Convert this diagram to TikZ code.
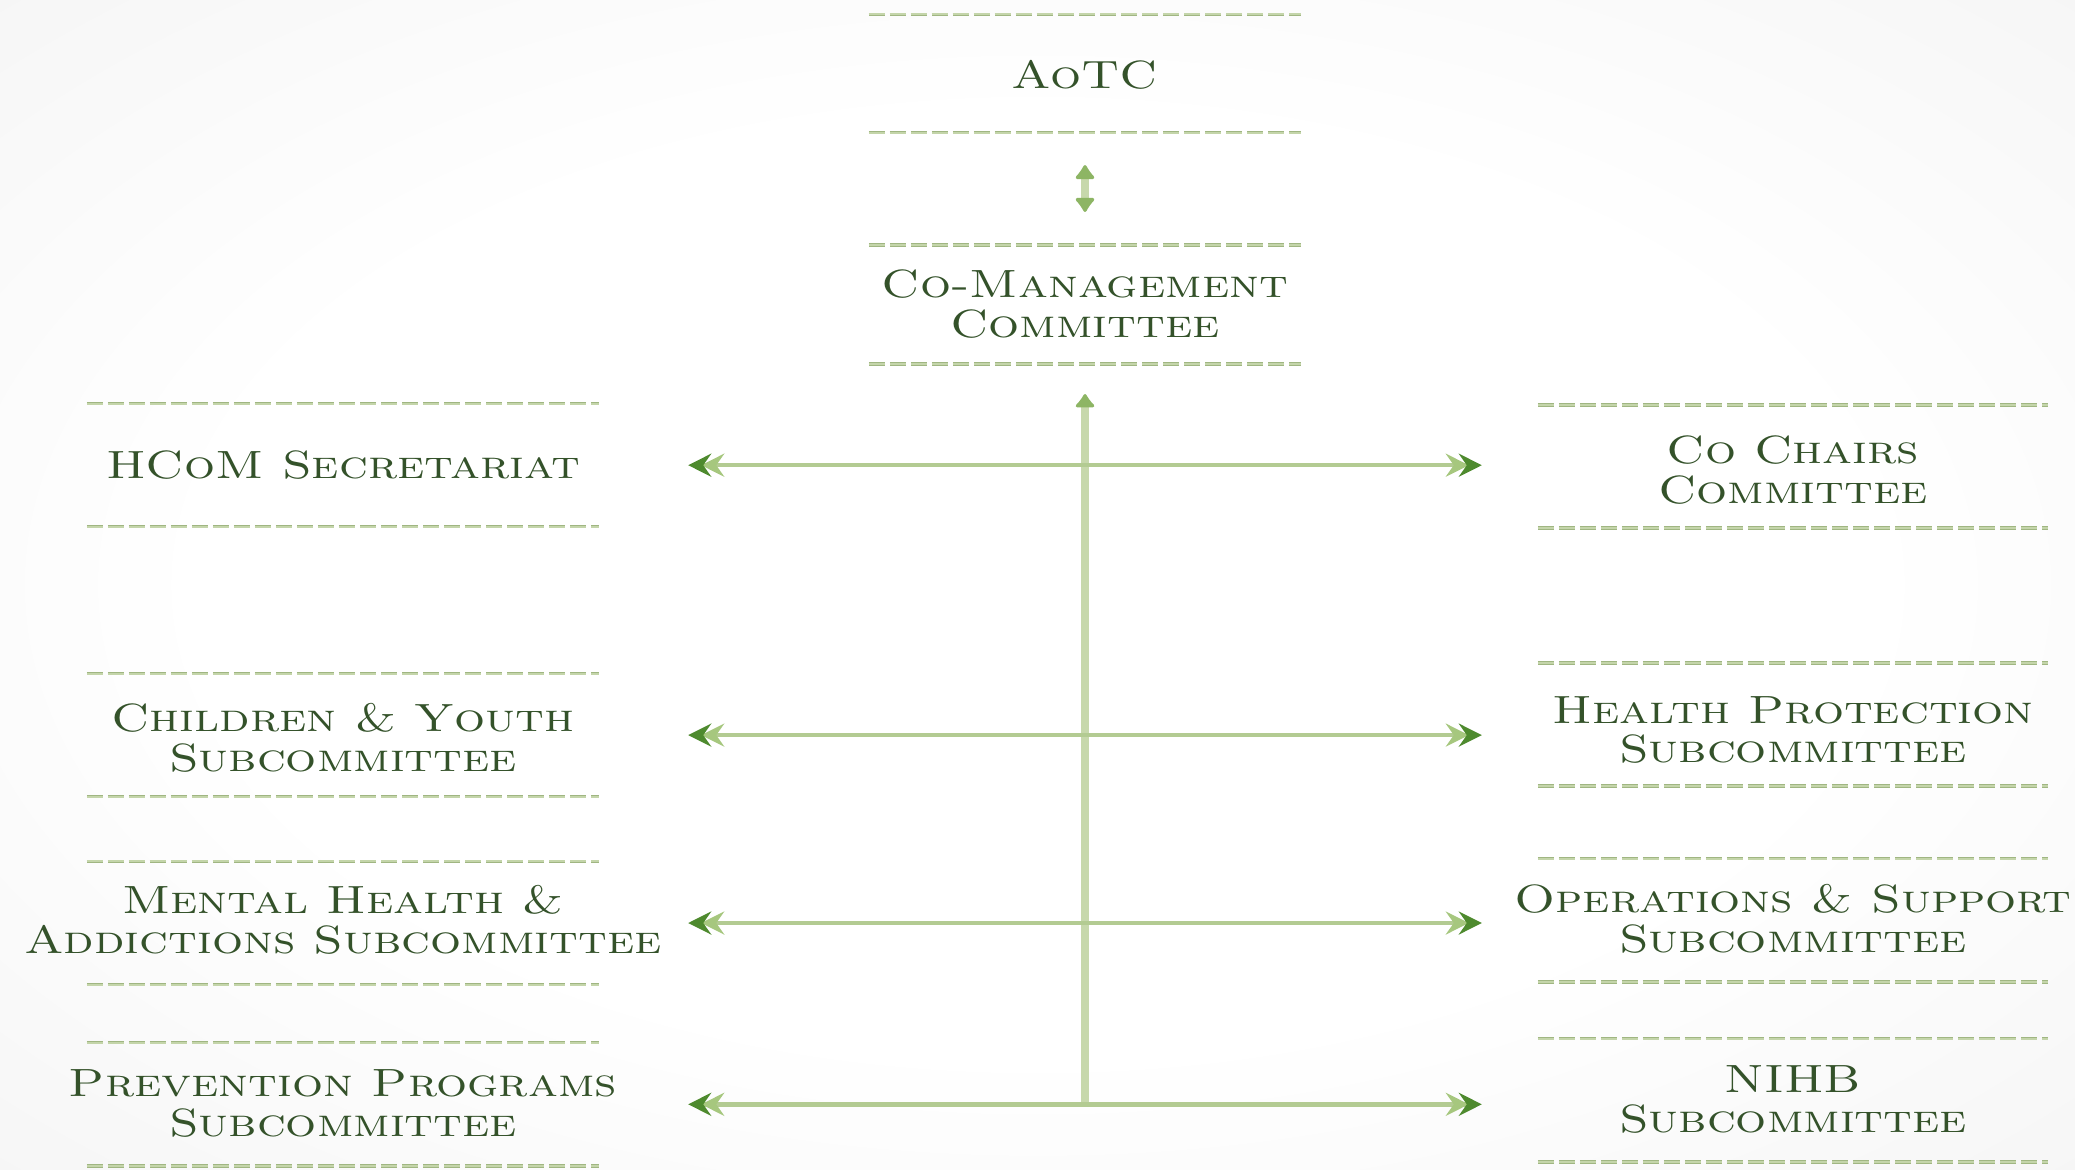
\documentclass[tikz,border=0pt]{standalone}
\usepackage{graphicx}
\usetikzlibrary{arrows.meta}
\definecolor{txtgreen}{HTML}{34522A}
\definecolor{dashout}{HTML}{A0B682}
\definecolor{dashin}{HTML}{C4D5AA}
\definecolor{hline}{HTML}{B3CB92}
\definecolor{vline}{HTML}{C7D8AC}
\definecolor{darkchev}{HTML}{4E8A2E}
\definecolor{lightchev}{HTML}{A6C77E}
\definecolor{headgreen}{HTML}{8DB564}
\definecolor{bgmid}{HTML}{EEEEEE}
\definecolor{bgout}{HTML}{E2E2E2}
\pgfdeclareradialshading{bgshade}{\pgfpoint{0bp}{0bp}}{color(0bp)=(white); color(20bp)=(white); color(50bp)=(bgmid); color(72bp)=(bgout)}
\newcommand{\lbl}[1]{\scalebox{1.24}[1]{\begin{tabular}{@{}c@{}}#1\end{tabular}}}
\tikzset{
  dchev/.tip={Stealth[length=2.3mm,width=2.3mm,inset=0.8mm,color=darkchev]},
  lchev/.tip={Stealth[length=2.3mm,width=2.3mm,inset=0.8mm,sep=-1.0mm,color=lightchev]},
  sidebox/.style={inner sep=0pt, text=txtgreen,
    font=\fontsize{11.2}{11.3}\selectfont\scshape},
  dashline/.style={draw=dashout, double=dashin, line width=0.07mm, double distance=0.2mm,
    dash pattern=on 1.6mm off 0.5mm},
  harrow/.style={draw=hline, line width=0.45mm, arrows={{dchev[]lchev[]}-{lchev[]dchev[]}}},
  varrow/.style={draw=vline, line width=0.8mm,
    arrows={-{Latex[round,length=1.5mm,width=2.4mm,color=headgreen]}}},
  darrow/.style={draw=vline, line width=0.8mm,
    arrows={{Latex[round,length=1.6mm,width=2.4mm,color=headgreen]}-{Latex[round,length=1.6mm,width=2.4mm,color=headgreen]}}}
}
\begin{document}
\begin{tikzpicture}[x=0.01cm,y=-0.01cm]
\shade[shading=bgshade] (0,0) rectangle (2075,1169);
\useasboundingbox (0,0) rectangle (2075,1169);

% box centres (between the two dashed rules)
\coordinate (aotcC)    at (1085,73.5);
\coordinate (comgC)    at (1085,304.4);
\coordinate (hcomC)    at (343,465.2);
\coordinate (childC)   at (343,735.1);
\coordinate (mentalC)  at (343,923.0);
\coordinate (prevC)    at (343,1104.3);
\coordinate (cochairC) at (1793,466.5);
\coordinate (healthC)  at (1793,724.5);
\coordinate (opsC)     at (1793,920.3);
\coordinate (nihbC)    at (1793,1100.3);

% dashed rules
\foreach \c/\w/\h in {aotcC/2.16/0.59, comgC/2.16/0.595, hcomC/2.56/0.615, childC/2.56/0.615,
    mentalC/2.56/0.615, prevC/2.56/0.615, cochairC/2.55/0.615, healthC/2.55/0.615,
    opsC/2.55/0.615, nihbC/2.55/0.615}{
  \draw[dashline] ([shift={(-\w cm,\h cm)}]\c) -- ([shift={(\w cm,\h cm)}]\c);
  \draw[dashline] ([shift={(-\w cm,-\h cm)}]\c) -- ([shift={(\w cm,-\h cm)}]\c);
}

% labels
\node[sidebox] (aotc)    at (1085,80.1)   {\lbl{AoTC}};
\node[sidebox] (comg)    at (1085,309.7)  {\lbl{Co-Management\\Committee}};
\node[sidebox] (hcom)    at (343,470.5)   {\lbl{HCoM Secretariat}};
\node[sidebox] (child)   at (343,743.1)   {\lbl{Children \& Youth\\Subcommittee}};
\node[sidebox] (mental)  at (343,925.6)   {\lbl{Mental Health \&\\Addictions Subcommittee}};
\node[sidebox] (prev)    at (343,1108.3)  {\lbl{Prevention Programs\\Subcommittee}};
\node[sidebox] (cochair) at (1793,475.5)  {\lbl{Co Chairs\\Committee}};
\node[sidebox] (health)  at (1793,735.1)  {\lbl{Health Protection\\Subcommittee}};
\node[sidebox] (ops)     at (1793,924.3)  {\lbl{Operations \& Support\\Subcommittee}};
\node[sidebox] (nihb)    at (1793,1104.3) {\lbl{NIHB\\Subcommittee}};

% row coordinates
\coordinate (r1) at (hcomC -| cochairC);
\coordinate (r2) at (childC -| healthC);
\coordinate (r3) at (mentalC -| opsC);
\coordinate (r4) at (prevC -| nihbC);
\coordinate (vbot) at (comgC |- prevC);

% connectors
\draw[darrow] ([yshift=-0.915cm]aotcC) -- ([yshift=0.924cm]comgC);
\draw[varrow] (vbot) -- ([yshift=-0.896cm]comgC);
\draw[harrow] ([xshift=3.45cm]hcomC)   -- ([xshift=-3.11cm]r1);
\draw[harrow] ([xshift=3.45cm]childC)  -- ([xshift=-3.11cm]r2);
\draw[harrow] ([xshift=3.45cm]mentalC) -- ([xshift=-3.11cm]r3);
\draw[harrow] ([xshift=3.45cm]prevC)   -- ([xshift=-3.11cm]r4);
\end{tikzpicture}
\end{document}
